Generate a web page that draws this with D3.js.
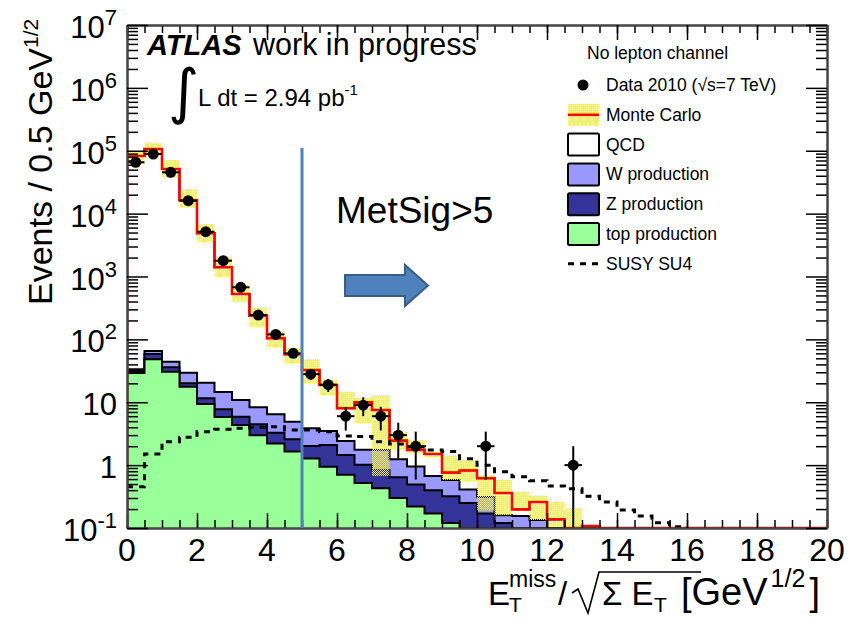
<!DOCTYPE html>
<html><head><meta charset="utf-8">
<script src="https://cdn.jsdelivr.net/npm/d3@7/dist/d3.min.js"></script>
<style>
body{margin:0;background:#fff;}
svg{display:block;font-family:"Liberation Sans",Arial,Helvetica,sans-serif;}
</style></head><body>
<svg id="c" width="849" height="618"></svg>
<script>
// ---------- data (40 bins of width 0.5 from 0 to 20) ----------
const binWidth = 0.5;
const binLow = d3.range(0, 20, binWidth);

const topProd = [29.2, 48.2, 30.6, 17.7, 9.4, 5.8, 4.35, 3.0, 2.2, 1.64, 1.28, 0.94, 0.70, 0.52, 0.43, 0.30, 0.22, 0.17, 0.12];
const zProd   = [2.3, 10.3, 5.4, 2.3, 2.2, 1.96, 1.54, 1.45, 1.06, 0.94, 0.73, 1.15, 0.75, 0.49, 0.41, 0.34, 0.27, 0.23, 0.20, 0.25, 0.17, 0.12];
const wProd   = [2.0, 6.8, 8.2, 9.5, 8.9, 6.8, 5.0, 3.85, 3.2, 2.33, 1.84, 1.40, 0.97, 0.74, 0.90, 0.60, 0.46, 0.27, 0.26, 0.16, 0.14, 0.04, 0.155, 0.134];
const qcd     = [82570, 106630, 51260, 16300, 4850, 1386, 516, 230, 97.5, 53, 28.8, 15.3, 5.6, 8.2, 5.8, 1.21, 0.80, 0.83, 0.18, 0.41, 0.31, 0.20, 0.043, 0.125, 0.137, 0, 0.107];

const mcBandLo = [62000, 88000, 36900, 12400, 3500, 993, 397, 159, 75.7, 42.1, 20.2, 13.0, 7.5, 4.68, 0.67, 1.74, 1.54, 1.35, 0.58, 0.55, 0.19, 0.16, 0.19, 0.134, 0.105, 0.05];
const mcBandHi = [100000, 135000, 71300, 24700, 6760, 2065, 733, 319, 136, 72.9, 48.7, 22.6, 14.7, 11.7, 13.0, 3.40, 2.51, 1.64, 1.45, 1.2, 0.70, 0.58, 0.378, 0.33, 0.262, 0.206];

const dataCounts = [65500, 88700, 45400, 16070, 5160, 1783, 673, 244, 120, 60, 28, 19, 6, 9, 6, 3, 2, 0, 0, 0, 2, 0, 0, 0, 0, 1];
const dataErr    = [256, 298, 213, 127, 72, 42, 26, 15.6, 11, 7.7, 5.3, 4.4, 2.45, 3.0, 2.45, 1.73, 1.41, 0, 0, 0, 1.41, 0, 0, 0, 0, 1.0];

const susy = [0.454, 1.50, 2.36, 2.77, 3.40, 3.72, 3.85, 3.99, 4.08, 3.62, 3.62, 3.40, 2.91, 2.84, 2.36, 2.17, 1.96, 1.74, 1.64, 1.26, 1.0, 0.786, 0.655, 0.565, 0.465, 0.42, 0.32, 0.26, 0.193, 0.155, 0.121, 0.105];

const xMajorTicks = [0, 2, 4, 6, 8, 10, 12, 14, 16, 18, 20];
const yLabelVals = [1e7, 1e6, 1e5, 1e4, 1e3, 1e2, 10, 1, 0.1];
const yLabelBase = ["10", "10", "10", "10", "10", "10", "10", "1", "10"];
const yLabelExp  = ["7", "6", "5", "4", "3", "2", "", "", "-1"];

const legendLabels = ["Data 2010 (\u221As=7 TeV)", "Monte Carlo", "QCD", "W production", "Z production", "top production", "SUSY SU4"];
const legendKinds  = ["data", "mc", "qcd", "w", "z", "top", "susy"];
const cutValue = 5;

// ---------- layout ----------
const L = 127, R = 827, T = 25, B = 528;
const svg = d3.select("#c");
const x = d3.scaleLinear().domain([0, 20]).range([L, R]);
const y = d3.scaleLog().domain([0.1, 1e7]).range([B, T]).clamp(true);
const yv = v => y(Math.max(v, 0.001));
const colors = {top: "#99ff99", z: "#333399", w: "#9999ff", qcd: "#ffffff"};

const defs = svg.append("defs");
defs.append("clipPath").attr("id", "plotclip").append("rect")
  .attr("x", L).attr("y", T).attr("width", R - L).attr("height", B - T);
const pat = defs.append("pattern").attr("id", "yel").attr("width", 2).attr("height", 2)
  .attr("patternUnits", "userSpaceOnUse");
pat.append("rect").attr("x", 0).attr("y", 0).attr("width", 1).attr("height", 1).attr("fill", "#ffff00");
pat.append("rect").attr("x", 1).attr("y", 1).attr("width", 1).attr("height", 1).attr("fill", "#ffff00");

const val = (arr, i) => (arr[i] === undefined ? 0 : arr[i]);
const rows = binLow.map((b, i) => ({top: val(topProd, i), z: val(zProd, i), w: val(wProd, i), qcd: val(qcd, i)}));
const stack = d3.stack().keys(["top", "z", "w", "qcd"])(rows);

function stepPts(vals) {
  const p = [];
  vals.forEach((v, i) => {
    p.push([x(binLow[i]), yv(v)]);
    p.push([x(binLow[i] + binWidth), yv(v)]);
  });
  return p;
}
const area = d3.area().x(d => d[0]).y0(B).y1(d => d[1]);
const line = d3.line();

const plot = svg.append("g").attr("clip-path", "url(#plotclip)");

// stacked histograms, drawn from the full sum down
for (let j = stack.length - 1; j >= 0; j--) {
  const key = stack[j].key;
  const pts = stepPts(stack[j].map(d => d[1]));
  plot.append("path").attr("d", area(pts)).attr("fill", colors[key]).attr("stroke", "none");
  plot.append("path").attr("d", line([[x(0), B], ...pts, [x(20), B]]))
    .attr("fill", "none").attr("stroke", "#000").attr("stroke-width", 2);
}

// MC uncertainty band
plot.append("g").selectAll("rect").data(mcBandHi.map((h, i) => ({i, h, l: mcBandLo[i]})))
  .join("rect")
  .attr("x", d => x(binLow[d.i])).attr("width", x(binWidth) - x(0))
  .attr("y", d => yv(d.h)).attr("height", d => Math.max(0, yv(d.l) - yv(d.h)))
  .attr("fill", "url(#yel)");

// MC total (red)
const total = stack[stack.length - 1].map(d => d[1]);
plot.append("path").attr("d", line([[x(0), B], ...stepPts(total)]))
  .attr("fill", "none").attr("stroke", "#ff0000").attr("stroke-width", 2.6);

// SUSY SU4 dashed
const susyPts = stepPts(susy);
plot.append("path").attr("d", line([...susyPts, [x(susy.length * binWidth), B]]))
  .attr("fill", "none").attr("stroke", "#000").attr("stroke-width", 3)
  .attr("stroke-dasharray", "6,6");

// data points
const dpts = dataCounts.map((c, i) => ({c, e: dataErr[i], i})).filter(d => d.c > 0);
const dg = plot.append("g");
dg.selectAll("line.v").data(dpts).join("line").attr("class", "v")
  .attr("x1", d => x(binLow[d.i] + binWidth / 2)).attr("x2", d => x(binLow[d.i] + binWidth / 2))
  .attr("y1", d => yv(d.c + d.e)).attr("y2", d => yv(d.c - d.e))
  .attr("stroke", "#000").attr("stroke-width", 2);
dg.selectAll("line.h").data(dpts).join("line").attr("class", "h")
  .attr("x1", d => x(binLow[d.i])).attr("x2", d => x(binLow[d.i] + binWidth))
  .attr("y1", d => yv(d.c)).attr("y2", d => yv(d.c))
  .attr("stroke", "#000").attr("stroke-width", 2);
dg.selectAll("circle").data(dpts).join("circle")
  .attr("cx", d => x(binLow[d.i] + binWidth / 2)).attr("cy", d => yv(d.c)).attr("r", 5.5)
  .attr("fill", "#000");

// ---------- axes (ticks inward, on all four sides) ----------
const yMinor = [];
for (let d = -1; d < 7; d++) for (let m = 2; m <= 9; m++) yMinor.push(m * Math.pow(10, d));
const xMinor = d3.range(0, 20.001, binWidth);
const axStyle = g => {
  g.selectAll(".domain").attr("stroke", "#444").attr("stroke-width", 2);
  g.selectAll(".tick line").attr("stroke", "#000").attr("stroke-width", 1.5);
};
svg.append("g").attr("transform", `translate(0,${B})`)
  .call(d3.axisBottom(x).tickValues(xMinor).tickSizeInner(-8).tickSizeOuter(0).tickFormat("")).call(axStyle);
svg.append("g").attr("transform", `translate(0,${B})`)
  .call(d3.axisBottom(x).tickValues(xMajorTicks).tickSizeInner(-15).tickSizeOuter(0).tickFormat("")).call(axStyle);
svg.append("g").attr("transform", `translate(0,${T})`)
  .call(d3.axisTop(x).tickValues(xMinor).tickSizeInner(-8).tickSizeOuter(0).tickFormat("")).call(axStyle);
svg.append("g").attr("transform", `translate(0,${T})`)
  .call(d3.axisTop(x).tickValues(xMajorTicks).tickSizeInner(-15).tickSizeOuter(0).tickFormat("")).call(axStyle);
svg.append("g").attr("transform", `translate(${L},0)`)
  .call(d3.axisLeft(y).tickValues(yMinor).tickSizeInner(-11).tickSizeOuter(0).tickFormat("")).call(axStyle);
svg.append("g").attr("transform", `translate(${L},0)`)
  .call(d3.axisLeft(y).tickValues(yLabelVals).tickSizeInner(-21).tickSizeOuter(0).tickFormat("")).call(axStyle);
svg.append("g").attr("transform", `translate(${R},0)`)
  .call(d3.axisRight(y).tickValues(yMinor).tickSizeInner(-11).tickSizeOuter(0).tickFormat("")).call(axStyle);
svg.append("g").attr("transform", `translate(${R},0)`)
  .call(d3.axisRight(y).tickValues(yLabelVals).tickSizeInner(-21).tickSizeOuter(0).tickFormat("")).call(axStyle);

// x tick labels
svg.append("g").selectAll("text").data(xMajorTicks).join("text")
  .attr("x", d => x(d)).attr("y", 561).attr("text-anchor", "middle")
  .attr("font-size", 32).text(d => d);

// y tick labels
const yl = svg.append("g").selectAll("text").data(yLabelVals).join("text")
  .attr("x", 117).attr("y", d => y(d) + 13).attr("text-anchor", "end").attr("font-size", 31);
yl.append("tspan").text((d, i) => yLabelBase[i]);
yl.append("tspan").attr("font-size", 22).attr("dy", -13).text((d, i) => yLabelExp[i]);

// y axis title
const yt = svg.append("text").attr("transform", "translate(52,305) rotate(-90)").attr("font-size", 34);
yt.append("tspan").text("Events / 0.5 GeV");
yt.append("tspan").attr("font-size", 21).attr("dy", -14).text("1/2");

// x axis title
const xt = svg.append("g").attr("font-size", 33);
xt.append("text").attr("x", 488).attr("y", 605).text("E");
xt.append("text").attr("x", 509).attr("y", 587).attr("font-size", 23).text("miss");
xt.append("text").attr("x", 509).attr("y", 612).attr("font-size", 21).text("T");
xt.append("text").attr("x", 558).attr("y", 605).text("/");
xt.append("path").attr("d", "M572,593 L578,589 L588,613 L599,572 L701,572")
  .attr("fill", "none").attr("stroke", "#000").attr("stroke-width", 1.6);
xt.append("text").attr("x", 602).attr("y", 605).text("\u03A3 E");
xt.append("text").attr("x", 654).attr("y", 612).attr("font-size", 21).text("T");
const gev = xt.append("text").attr("x", 681).attr("y", 605).attr("font-size", 38).text("[GeV");
const gEnd = 681 + gev.node().getComputedTextLength();
const half = xt.append("text").attr("x", gEnd + 3).attr("y", 587).attr("font-size", 25).text("1/2");
const hEnd = gEnd + 3 + half.node().getComputedTextLength();
xt.append("text").attr("x", hEnd + 4).attr("y", 605).attr("font-size", 38).text("]");

// ATLAS label
svg.append("text").attr("x", 147).attr("y", 55).attr("font-size", 29)
  .attr("font-weight", "bold").attr("font-style", "italic").text("ATLAS");
svg.append("text").attr("x", 253).attr("y", 55).attr("font-size", 30.5).text("work in progress");
svg.append("text").attr("x", 168).attr("y", 112).attr("font-size", 60)
  .attr("font-family", "'DejaVu Sans', sans-serif").text("\u222B");
const lum = svg.append("text").attr("x", 198).attr("y", 106).attr("font-size", 24);
lum.append("tspan").text("L dt = 2.94 pb");
lum.append("tspan").attr("font-size", 15).attr("dy", -11).text("-1");

// legend
svg.append("text").attr("x", 587).attr("y", 59).attr("font-size", 17.5).text("No lepton channel");
const lg = svg.append("g");
legendLabels.forEach((lab, i) => {
  const cy = 85 + i * 29.8;
  const k = legendKinds[i];
  if (k === "data") {
    lg.append("circle").attr("cx", 583).attr("cy", cy).attr("r", 5.5).attr("fill", "#000");
  } else if (k === "mc") {
    lg.append("rect").attr("x", 568).attr("y", cy - 11).attr("width", 31).attr("height", 22).attr("fill", "url(#yel)");
    lg.append("line").attr("x1", 568).attr("x2", 599).attr("y1", cy).attr("y2", cy)
      .attr("stroke", "#ff0000").attr("stroke-width", 2.6);
  } else if (k === "susy") {
    lg.append("line").attr("x1", 568).attr("x2", 599).attr("y1", cy).attr("y2", cy)
      .attr("stroke", "#000").attr("stroke-width", 3).attr("stroke-dasharray", "6,6");
  } else {
    lg.append("rect").attr("x", 568).attr("y", cy - 11).attr("width", 31).attr("height", 22)
      .attr("rx", 1.5).attr("fill", colors[k]).attr("stroke", "#000").attr("stroke-width", 2);
  }
  lg.append("text").attr("x", 606).attr("y", cy + 6).attr("font-size", 17.5).text(lab);
});

// cut line, arrow and annotation
svg.append("line").attr("x1", x(cutValue)).attr("x2", x(cutValue)).attr("y1", 148).attr("y2", B)
  .attr("stroke", "#4f81bd").attr("stroke-width", 3);
svg.append("path")
  .attr("d", "M345,275 L405,275 L405,265 L428,285.5 L405,306 L405,296 L345,296 Z")
  .attr("fill", "#4f81bd").attr("stroke", "#385d8a").attr("stroke-width", 2);
svg.append("text").attr("x", 336).attr("y", 223).attr("font-size", 37).text("MetSig>5");
</script>
</body></html>
